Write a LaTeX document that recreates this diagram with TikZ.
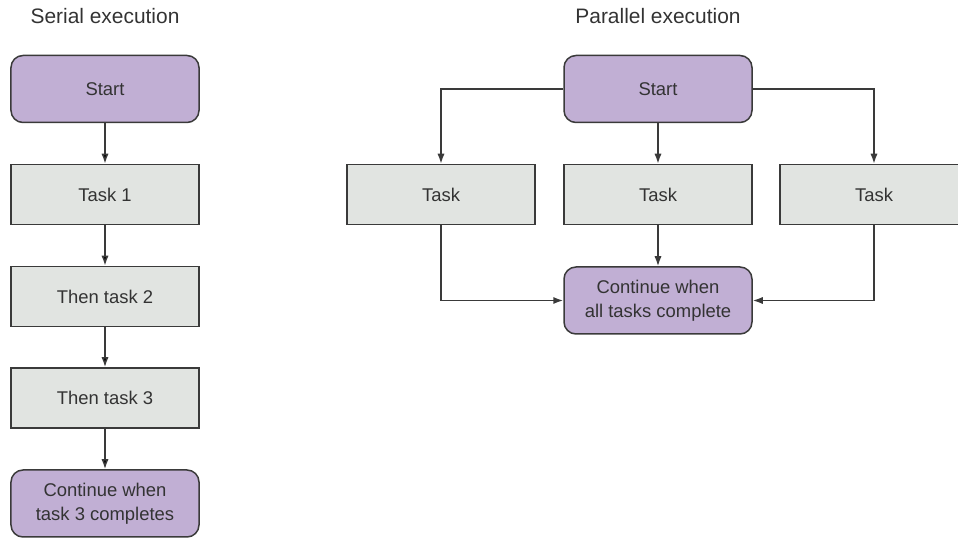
\documentclass[tikz,border=0pt]{standalone}
\usepackage{fontspec}
\setmainfont{Liberation Sans}
\usetikzlibrary{arrows.meta}
\definecolor{startfill}{HTML}{C1AFD4}
\definecolor{taskfill}{HTML}{E1E4E1}
\definecolor{edgegray}{HTML}{3A3A3A}
\definecolor{textgray}{HTML}{333333}
\begin{document}
\begin{tikzpicture}[x=0.5bp, y=-0.5bp,
  title/.style={anchor=base, text=textgray, font=\fontsize{10.5}{12}\selectfont},
  task/.style={draw=edgegray, fill=taskfill, line width=0.75bp, inner sep=0pt,
    minimum width=94bp, minimum height=30bp, text=textgray,
    font=\fontsize{9.25}{12}\selectfont},
  stage/.style={task, fill=startfill, rounded corners=6bp, minimum height=33.5bp,
    align=center},
  arr/.style={draw=edgegray, line width=0.75bp, -{Latex[length=5bp, width=3.6bp]}}]
\useasboundingbox (0,0) rectangle (958,538);
\node[title] (serial) at (105,24) {Serial execution};
\node[title] (parallel) at (658,24) {Parallel execution};
% serial column
\node[stage] (s0) at (105,89) {Start};
\node[task] (s1) at (105,194.5) {Task 1};
\node[task] (s2) at (105,296.5) {Then task 2};
\node[task] (s3) at (105,398) {Then task 3};
\node[stage] (s4) at (105,503.5) {Continue when\\task 3 completes};
\path [arr] (s0) edge (s1);
\path [arr] (s1) edge (s2);
\path [arr] (s2) edge (s3);
\path [arr] (s3) edge (s4);
% parallel column
\node[stage] (p0) at (658,89) {Start};
\node[task] (p1) at (441,194.5) {Task};
\node[task] (p2) at (658,194.5) {Task};
\node[task] (p3) at (874,194.5) {Task};
\node[stage] (p4) at (658,300.5) {Continue when\\all tasks complete};
\draw [arr] (p0.west) -| (p1.north);
\draw [arr] (p0) -- (p2);
\draw [arr] (p0.east) -| (p3.north);
\draw [arr] (p1.south) |- (p4.west);
\draw [arr] (p2) -- (p4);
\draw [arr] (p3.south) |- (p4.east);
\end{tikzpicture}
\end{document}
